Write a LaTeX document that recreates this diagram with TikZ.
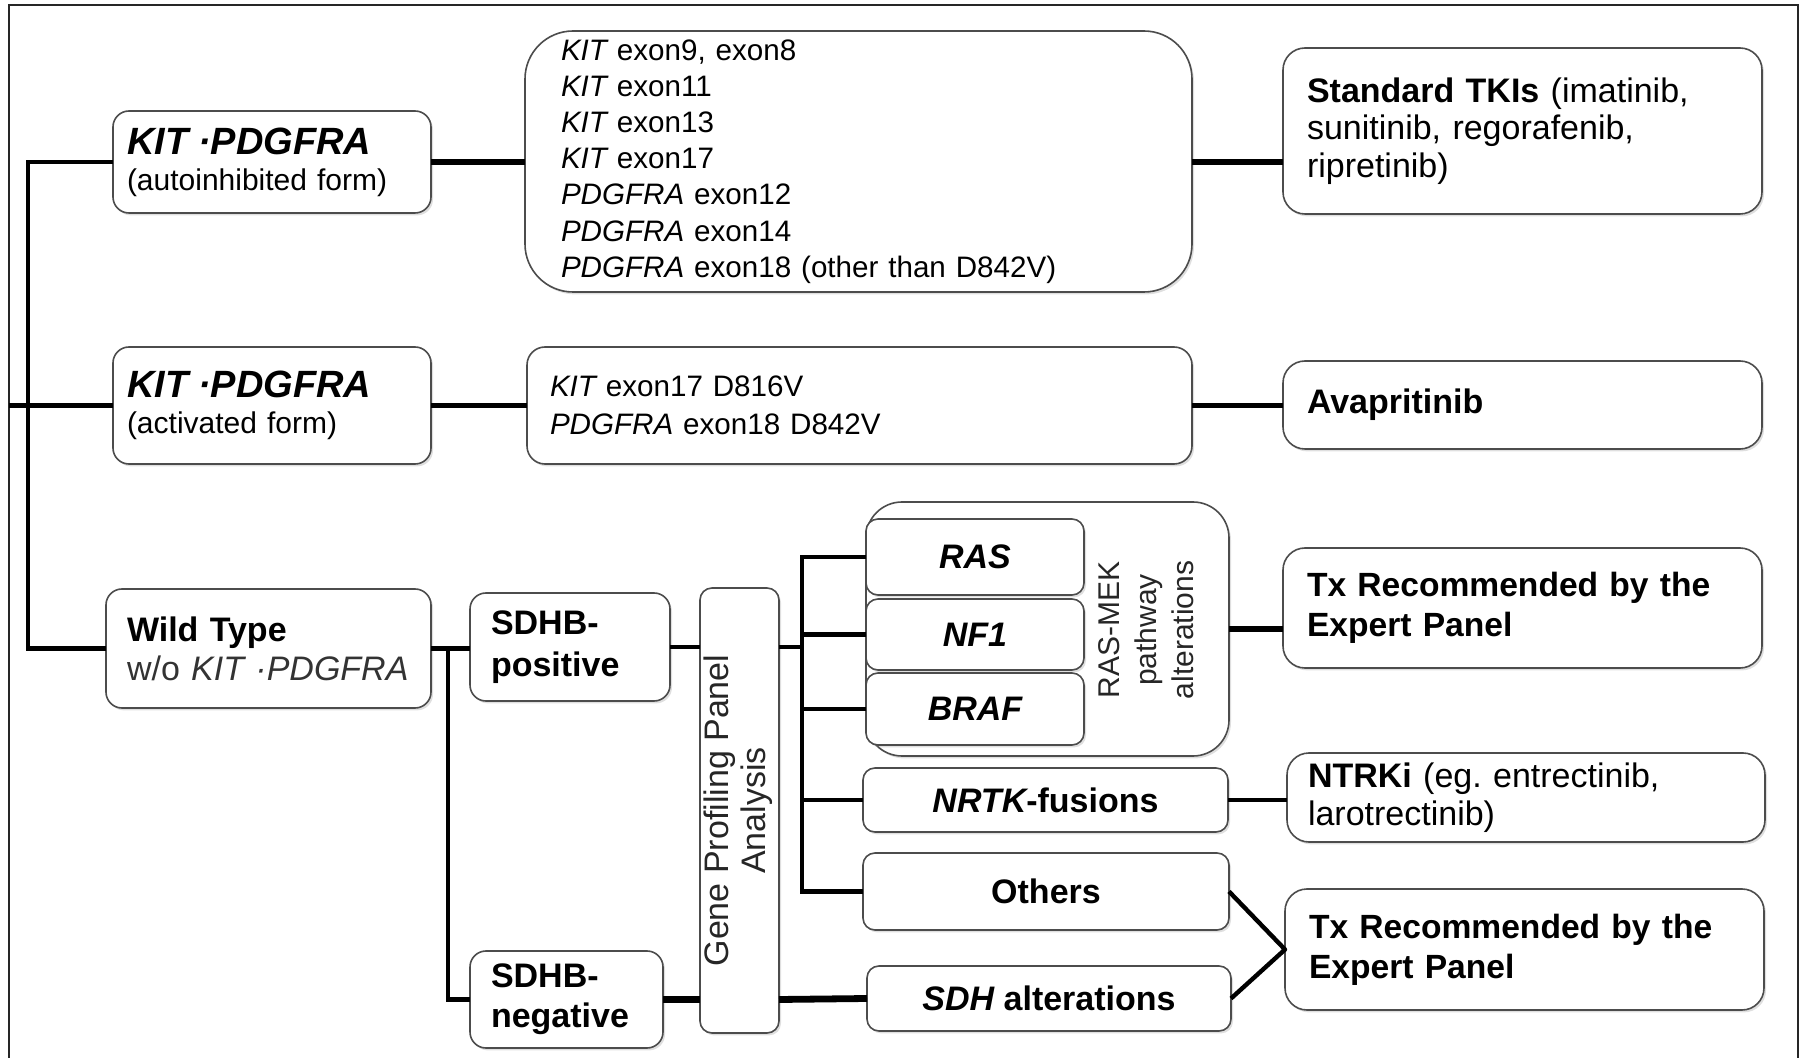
\documentclass[tikz,border=0pt]{standalone}
\usepackage{fontspec}
\setmainfont{Liberation Sans}
\usetikzlibrary{calc,shadows}

\tikzset{
  box/.style={draw=black!70, line width=0.8pt, rounded corners=8pt, fill=white,
    inner sep=0pt, outer sep=0pt,
    drop shadow={shadow xshift=1pt, shadow yshift=-1.2pt, opacity=0.25, fill=black!50}},
  conn/.style={line width=2.2pt, black},
  thickconn/.style={line width=3.4pt, black},
  f15/.style={font=\fontsize{15}{18}\selectfont},
  f17/.style={font=\fontsize{17}{19}\selectfont},
}

\newcommand\gene[1]{{\itshape #1}}
\frenchspacing

\begin{document}
\begin{tikzpicture}[x=0.5pt, y=-0.5pt]
\useasboundingbox (0,0) rectangle (1805,1058);

% outer frame
\draw[line width=1pt, black!85] (9,1075) -- (9,5) -- (1798,5) -- (1798,1075);
\coordinate (lf) at (9,0);
\coordinate (trunk) at (28,0);
\coordinate (br) at (448,0);
\coordinate (gbr) at (802,0);

% first column
\node[box, f15, minimum width=159pt, minimum height=51pt, text width=145pt, align=left]
  (a1) at (272,162) {{\fontsize{19}{22}\selectfont\bfseries\itshape KIT ·PDGFRA}\\(autoinhibited form)};
\node[box, f15, minimum width=159pt, minimum height=58.5pt, text width=145pt, align=left]
  (a2) at (272,405.5) {{\fontsize{19}{22}\selectfont\bfseries\itshape KIT ·PDGFRA}\\(activated form)};
\node[box, font=\fontsize{17}{19.6}\selectfont, minimum width=162.5pt, minimum height=59.5pt, text width=141.5pt, align=left]
  (a3) at (268.5,648.5) {\textbf{Wild Type}\\{\color{black!80}w/o \gene{KIT ·PDGFRA}}};

% mutation lists
\node[box, rounded corners=24pt, font=\fontsize{14.8}{18.1}\selectfont, minimum width=333.5pt, minimum height=130.5pt, text width=297.5pt, align=left]
  (b1) at (858.5,161.5) {\gene{KIT} exon9, exon8\\ \gene{KIT} exon11\\ \gene{KIT} exon13\\ \gene{KIT} exon17\\
   \gene{PDGFRA} exon12\\ \gene{PDGFRA} exon14\\ \gene{PDGFRA} exon18 (other than D842V)};
\node[box, rounded corners=9pt, font=\fontsize{14.8}{19}\selectfont, minimum width=332.5pt, minimum height=58.5pt, text width=309.5pt, align=left]
  (b2) at (859.5,405.5) {\gene{KIT} exon17 D816V\\ \gene{PDGFRA} exon18 D842V};

% treatments
\node[box, rounded corners=11pt, font=\fontsize{17}{18.7}\selectfont, minimum width=239.5pt, minimum height=83pt, text width=215.5pt, align=left]
  (c1) at (1522.5,131) {\textbf{Standard TKIs} (imatinib,\\ sunitinib, regorafenib,\\ ripretinib)};
\node[box, rounded corners=11pt, f17, minimum width=239.5pt, minimum height=44pt, text width=215.5pt, align=left]
  (c2) at (1522.5,405) {\textbf{Avapritinib}};
\node[box, rounded corners=11pt, font=\fontsize{16.8}{20}\selectfont\bfseries, minimum width=239.5pt, minimum height=60pt, text width=215.5pt, align=left]
  (c3) at (1522.5,608) {Tx Recommended by the\\ Expert Panel};
\node[box, rounded corners=11pt, font=\fontsize{17}{19}\selectfont, minimum width=239pt, minimum height=44.5pt, text width=218pt, align=left]
  (c4) at (1526,797.5) {\textbf{NTRKi} (eg. entrectinib,\\ larotrectinib)};
\node[box, rounded corners=11pt, font=\fontsize{16.8}{20}\selectfont\bfseries, minimum width=239.5pt, minimum height=60.5pt, text width=215.5pt, align=left]
  (c5) at (1524.5,949.5) {Tx Recommended by the\\ Expert Panel};

% SDHB status
\node[box, font=\fontsize{17}{21}\selectfont\bfseries, minimum width=100pt, minimum height=54pt, text width=79pt, align=left]
  (sdhbp) at (570,647) {SDHB-\\positive};
\node[box, font=\fontsize{17}{20}\selectfont\bfseries, minimum width=96.5pt, minimum height=48.5pt, text width=75.5pt, align=left]
  (sdhbn) at (566.5,999.5) {SDHB-\\negative};

% gene profiling
\node[box, rounded corners=6pt, minimum width=39.5pt, minimum height=222.5pt]
  (gene) at (739.5,810.5) {\rotatebox{90}{\fontsize{17}{18.4}\selectfont\color{black!85}%
    \begin{tabular}{@{}c@{}}Gene Profiling Panel\\Analysis\end{tabular}}};

% RAS-MEK pathway group
\node[box, rounded corners=18pt, minimum width=181.5pt, minimum height=127pt]
  (rasmek) at (1047.5,629) {};
\node[inner sep=0pt] (rasmeklbl) at (1149,630) {\rotatebox{90}{\fontsize{15}{18.4}\selectfont\color{black!85}%
    \begin{tabular}{@{}c@{}}RAS-MEK\\pathway\\alterations\end{tabular}}};
\node[box, rounded corners=6pt, font=\fontsize{17}{19}\selectfont\bfseries\itshape, minimum width=109pt, minimum height=38pt]
  (ras) at (975,557) {RAS};
\node[box, rounded corners=6pt, font=\fontsize{17}{19}\selectfont\bfseries\itshape, minimum width=109pt, minimum height=35.5pt]
  (nf1) at (975,634.5) {NF1};
\node[box, rounded corners=6pt, font=\fontsize{17}{19}\selectfont\bfseries\itshape, minimum width=109pt, minimum height=36pt]
  (braf) at (975,709) {BRAF};

% other findings
\node[box, rounded corners=6pt, font=\fontsize{17}{19}\selectfont\bfseries, minimum width=182.5pt, minimum height=32pt]
  (nrtk) at (1045.5,800) {\gene{NRTK}-fusions};
\node[box, rounded corners=6pt, font=\fontsize{17}{19}\selectfont\bfseries, minimum width=183pt, minimum height=38.5pt]
  (others) at (1046,891.5) {Others};
\node[box, rounded corners=6pt, font=\fontsize{17}{19}\selectfont\bfseries, minimum width=182pt, minimum height=32.5pt]
  (sdhalt) at (1049,998.5) {\gene{SDH} alterations};

% connectors: main trunk
\draw[conn] (a1.west) -- (a1.west -| trunk) -- (a3.west -| trunk) -- (a3.west);
\draw[conn] (a2.west -| lf) -- (a2.west);
\draw[thickconn] (a1.east) -- (a1.east -| b1.west);
\draw[thickconn] (a1.east -| b1.east) -- (a1.east -| c1.west);
\draw[conn] (a2.east) -- (b2.west);
\draw[conn] (b2.east) -- (b2.east -| c2.west);

% wild type branch
\draw[conn] (a3.east) -- (a3.east -| sdhbp.west);
\draw[conn] (a3.east -| br) -- (sdhbn.west -| br) -- (sdhbn.west);
\draw[conn] (sdhbp.east) -- (sdhbp.east -| gene.west);
\draw[thickconn] (sdhbn.east) -- (sdhbn.east -| gene.west);

% gene profiling results
\draw[conn] (sdhbp.east -| gene.east) -- (sdhbp.east -| gbr);
\draw[conn] (ras.west) -- (ras.west -| gbr) -- (others.west -| gbr) -- (others.west);
\draw[conn] (nf1.west -| gbr) -- (nf1.west);
\draw[conn] (braf.west -| gbr) -- (braf.west);
\draw[conn] (nrtk.west -| gbr) -- (nrtk.west);
\draw[thickconn] (sdhbn.east -| gene.east) -- (sdhalt.west);

% to treatments
\draw[thickconn] (rasmek.east) -- (rasmek.east -| c3.west);
\draw[conn] (nrtk.east) -- (nrtk.east -| c4.west);
\draw[conn, line join=round] (others.east) -- (c5.west) -- (sdhalt.east);
\end{tikzpicture}
\end{document}
